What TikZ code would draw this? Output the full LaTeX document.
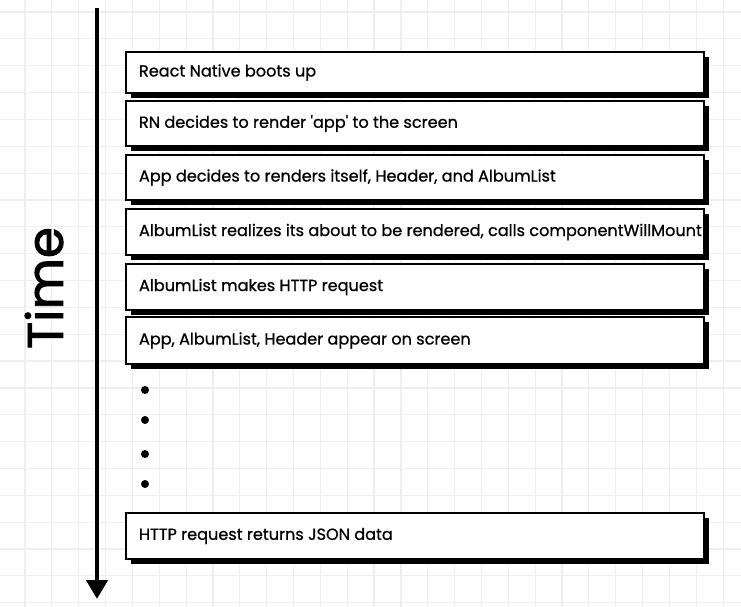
\documentclass[tikz,border=0pt]{standalone}
\usepackage{fontspec}
\setmainfont{Poppins}
\newfontfamily\boxfont{Poppins}[FakeBold=0.8]
\newfontfamily\timefont{Poppins}[FakeBold=1.8]
\usetikzlibrary{shadows,arrows.meta}
\definecolor{gridgray}{HTML}{EEEEEE}
\tikzset{
  evbox/.style={draw=black, line width=2pt, fill=white, anchor=north west,
    minimum width=578pt, inner xsep=13pt,
    font=\boxfont\fontsize{16.1}{18}\selectfont,
    execute at begin node={\hbox to 552pt\bgroup},
    execute at end node={\hss\egroup},
    drop shadow={shadow xshift=5pt, shadow yshift=-5pt, fill=black, opacity=1}},
  dotmark/.style={circle, fill=black, inner sep=0pt, minimum size=8pt},
  timeaxis/.style={line width=4.5pt, -{Triangle[width=21pt,length=19pt]}},
}
\begin{document}
\begin{tikzpicture}[x=1pt,y=-1pt]
\useasboundingbox (0,0) rectangle (741,607);
\fill[white] (0,0) rectangle (741,607);
% grid
\foreach \k in {0,...,27} {
  \draw[gridgray, line width=1.2pt] ({25+26.85*\k},0) -- ({25+26.85*\k},607);
}
\foreach \k in {0,...,22} {
  \draw[gridgray, line width=1.2pt] (0,{12+26.85*\k}) -- (741,{12+26.85*\k});
}
% time axis
\coordinate (tstart) at (97,8);
\coordinate (tend) at (97,599);
\draw[timeaxis] (tstart) -- (tend);
\node[rotate=90, font=\timefont\fontsize{50}{56}\selectfont] (time) at (44,288) {Time};
% boxes
\node[evbox, minimum height=41pt] (b1) at (125,51) {React Native boots up};
\node[evbox, minimum height=45pt] (b2) at (125,100) {RN decides to render 'app' to the screen};
\node[evbox, minimum height=45pt] (b3) at (125,154) {App decides to renders itself, Header, and AlbumList};
\node[evbox, minimum height=46pt] (b4) at (125,208) {AlbumList realizes its about to be rendered, calls componentWillMount};
\node[evbox, minimum height=46pt] (b5) at (125,263) {AlbumList makes HTTP request};
\node[evbox, minimum height=47pt] (b6) at (125,316) {App, AlbumList, Header appear on screen};
\node[evbox, minimum height=46pt] (b7) at (125,512) {HTTP request returns JSON data};
% dots
\node[dotmark] (d1) at (145,390) {};
\node[dotmark] (d2) at (145,420) {};
\node[dotmark] (d3) at (145,454) {};
\node[dotmark] (d4) at (145,484) {};
\end{tikzpicture}
\end{document}
